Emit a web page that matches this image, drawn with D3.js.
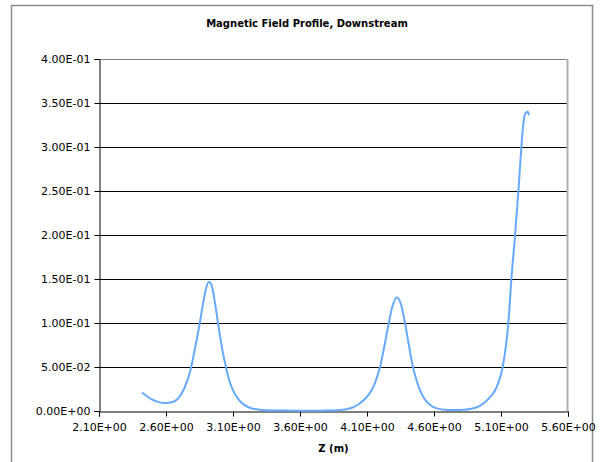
<!DOCTYPE html>
<html>
<head>
<meta charset="utf-8">
<script src="https://cdn.jsdelivr.net/npm/d3@7"></script>
<style>
  body { margin: 0; background: #fff; }
  text { font-family: "DejaVu Sans", Verdana, sans-serif; fill: #000; }
</style>
</head>
<body>
<div id="chart"></div>
<script>
// values
const zValues = [2.42, 2.46, 2.50, 2.54, 2.58, 2.62, 2.66, 2.70, 2.74, 2.78, 2.82, 2.85, 2.88, 2.90, 2.92, 2.94, 2.96, 2.99,
  3.02, 3.05, 3.08, 3.12, 3.16, 3.22, 3.30, 3.40, 3.50, 3.60, 3.70, 3.80, 3.90, 3.96, 4.00, 4.04, 4.08, 4.12, 4.16, 4.20,
  4.23, 4.26, 4.29, 4.32, 4.35, 4.38, 4.41, 4.44, 4.48, 4.52, 4.57, 4.62, 4.70, 4.76, 4.82, 4.88, 4.93, 4.98, 5.02, 5.05,
  5.08, 5.11, 5.135, 5.155, 5.177, 5.205, 5.23, 5.252, 5.267, 5.285, 5.30, 5.309]
const bValues = [0.021, 0.0165, 0.0128, 0.0104, 0.0092, 0.0095, 0.0108, 0.016, 0.027, 0.045, 0.074, 0.098, 0.125, 0.140, 0.147, 0.143, 0.128, 0.098,
  0.070, 0.048, 0.031, 0.018, 0.010, 0.004, 0.0015, 0.0007, 0.0005, 0.0004, 0.0004, 0.0006, 0.0012, 0.0025, 0.0045, 0.008, 0.013, 0.020, 0.032, 0.052,
  0.074, 0.098, 0.119, 0.129, 0.123, 0.103, 0.077, 0.052, 0.030, 0.016, 0.007, 0.003, 0.0012, 0.001, 0.0013, 0.0025, 0.005, 0.010, 0.016, 0.022,
  0.032, 0.048, 0.072, 0.100, 0.149, 0.200, 0.250, 0.300, 0.327, 0.339, 0.340, 0.336]
const xTicks = [2.1, 2.6, 3.1, 3.6, 4.1, 4.6, 5.1, 5.6]
const yTicks = [0, 0.05, 0.1, 0.15, 0.2, 0.25, 0.3, 0.35, 0.4]
const titleText = 'Magnetic Field Profile, Downstream'
const xLabelText = 'Z (m)'

const width = 604
const height = 462
const margin = { top: 59, right: 36, bottom: 51, left: 99 }

// excel style scientific labels, e.g. 2.10E+00
const sci = function (v) {
  if (v === 0) return '0.00E+00'
  let e = Math.floor(Math.log10(Math.abs(v)) + 1e-9)
  let m = v / Math.pow(10, e)
  let sign = e < 0 ? '-' : '+'
  let ee = String(Math.abs(e)).padStart(2, '0')
  return m.toFixed(2) + 'E' + sign + ee
}

const svg = d3.select('#chart').append('svg')
  .attr('width', width)
  .attr('height', height)

// outer chart border
svg.append('rect')
  .attr('x', 11.5).attr('y', 5.5)
  .attr('width', 581).attr('height', 470)
  .style('fill', 'none')
  .style('stroke', '#8c8c8c')
  .style('stroke-width', 1.5)

const x = d3.scaleLinear().domain([2.1, 5.6]).range([margin.left, width - margin.right])
const y = d3.scaleLinear().domain([0, 0.4]).range([height - margin.bottom, margin.top])

// gridlines
svg.append('g')
  .selectAll('line')
  .data(yTicks.filter(d => d > 0))
  .join('line')
  .attr('x1', x(2.1)).attr('x2', x(5.6))
  .attr('y1', d => Math.round(y(d)) + 0.5)
  .attr('y2', d => Math.round(y(d)) + 0.5)
  .style('stroke', d => d === 0.4 ? '#808080' : '#000')
  .style('stroke-width', 1)

// plot area right border
svg.append('line')
  .attr('x1', Math.round(x(5.6)) - 0.5).attr('x2', Math.round(x(5.6)) - 0.5)
  .attr('y1', y(0.4)).attr('y2', y(0))
  .style('stroke', '#b0b0b0')
  .style('stroke-width', 2)

// axes
const yAxis = d3.axisLeft(y).tickValues(yTicks).tickFormat(sci).tickSize(5).tickPadding(4)
const xAxis = d3.axisBottom(x).tickValues(xTicks).tickFormat(sci).tickSize(5).tickPadding(7)

const gy = svg.append('g')
  .attr('transform', `translate(${margin.left + 0.5},0)`)
  .call(yAxis)
const gx = svg.append('g')
  .attr('transform', `translate(0,${height - margin.bottom + 0.5})`)
  .call(xAxis)

for (const g of [gx, gy]) {
  g.selectAll('text').style('font-size', '11px').style('font-family', '"DejaVu Sans", Verdana, sans-serif')
  g.select('.domain').style('stroke', '#000')
  g.selectAll('.tick line').style('stroke', '#000')
}

// the curve
const line = d3.line()
  .x(d => x(d[0]))
  .y(d => y(d[1]))
  .curve(d3.curveMonotoneX)

svg.append('path')
  .datum(zValues.map((z, i) => [z, bValues[i]]))
  .attr('d', line)
  .style('fill', 'none')
  .style('stroke', '#66aaff')
  .style('stroke-width', 2)

// titles
svg.append('text')
  .attr('x', 307).attr('y', 27)
  .attr('text-anchor', 'middle')
  .style('font-size', '10px')
  .style('font-weight', 'bold')
  .text(titleText)

svg.append('text')
  .attr('x', x(3.85)).attr('y', 452)
  .attr('text-anchor', 'middle')
  .style('font-size', '10px')
  .style('font-weight', 'bold')
  .text(xLabelText)
</script>
</body>
</html>
